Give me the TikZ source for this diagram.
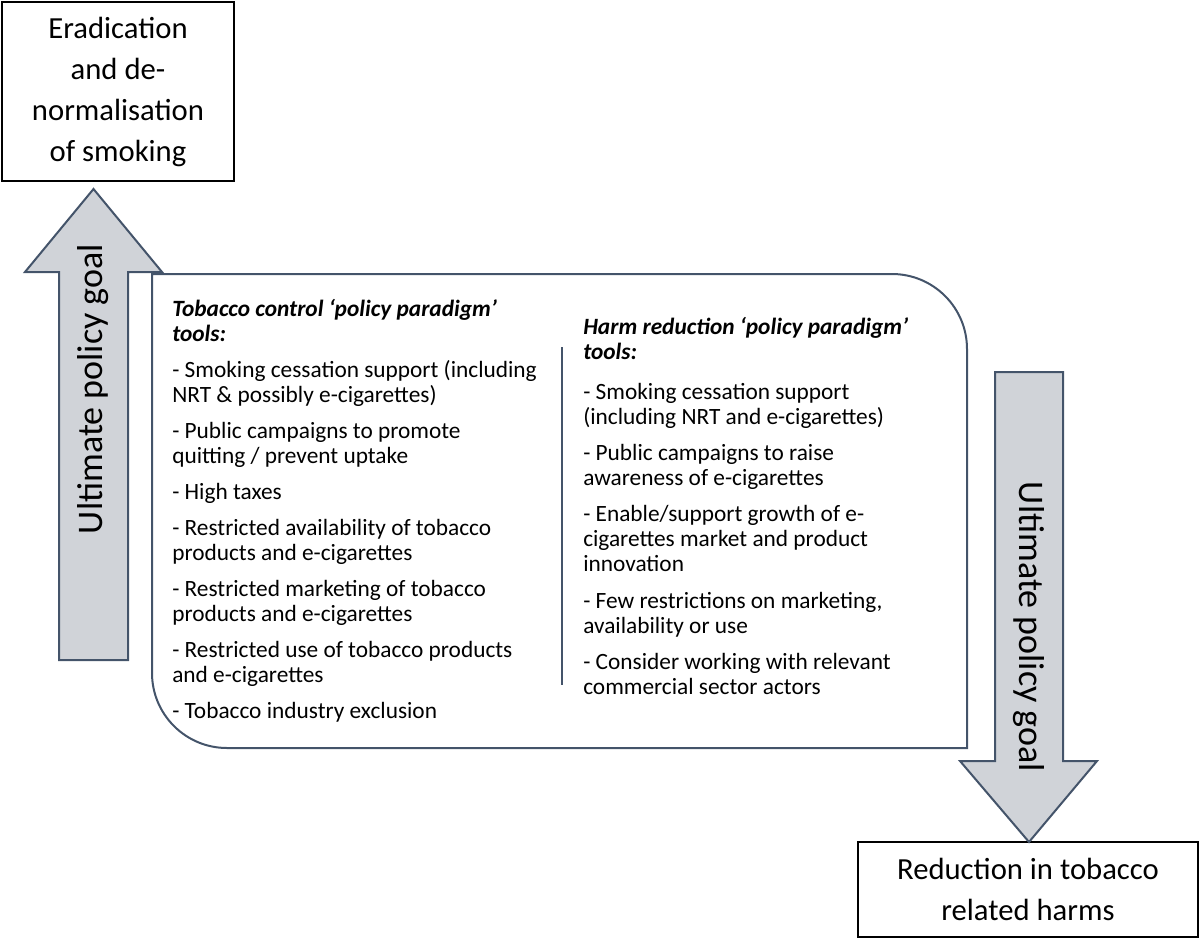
\documentclass[tikz,border=0pt]{standalone}
\usepackage{fontspec}
\setmainfont{Carlito}
\usepackage{tikz}
\usepackage{color}
\definecolor{slate}{RGB}{68,84,106}
\definecolor{arrowfill}{RGB}{208,211,216}
\newcommand{\toolhead}[1]{\textbf{\textit{#1}}}

\tikzset{
  goalbox/.style={draw=black, line width=1.5pt, align=center, inner sep=0pt,
    font=\fontsize{23}{30.75}\selectfont},
  goalarrow/.style={draw=slate, fill=arrowfill, line width=1.5pt, line join=miter},
  arrowtext/.style={inner sep=0pt, font=\fontsize{27}{32}\selectfont},
  tools/.style={align=left, anchor=north west, inner sep=0pt,
    font=\fontsize{17.5}{18.75}\selectfont},
}

\begin{document}
\begin{tikzpicture}[x=0.75pt,y=-0.75pt]
\useasboundingbox (0,0) rectangle (1200,939);
%% outcome boxes;
\node[goalbox, minimum width=174pt, minimum height=134.25pt] (erad) at (118,91.5)
  {Eradication\\and de-\\normalisation\\of smoking};
\node[goalbox, minimum width=255pt, minimum height=71.25pt] (harms) at (1028,889.5)
  {Reduction in tobacco\\related harms};
%% tools panel;
\draw[slate, line width=1.5pt] (152,274) -- (892,274)
  arc[start angle=-90, end angle=0, radius=75] -- (967,748) -- (227,748)
  arc[start angle=90, end angle=180, radius=75] -- cycle;
\draw[slate, line width=1.5pt] (562,347) -- (562,685);
%% goal arrows;
\draw[goalarrow] (59,660) -- (59,272) -- (25,272) -- (93.5,189) -- (162,272)
  -- (128,272) -- (128,660) -- cycle;
\draw[goalarrow] (995,372) -- (995,761) -- (960,761) -- (1029,842) -- (1097,761)
  -- (1063,761) -- (1063,372) -- cycle;
\node[arrowtext, rotate=90] (upgoal) at (93,389) {Ultimate policy goal};
\node[arrowtext, rotate=-90] (downgoal) at (1029,627) {Ultimate policy goal};
%% tobacco control;
\node[tools] (tc) at (172,299) {\toolhead{Tobacco control ‘policy paradigm’}\\
  \toolhead{tools:}\\[8.25pt]
  - Smoking cessation support (including\\
  NRT \& possibly e-cigarettes)\\[8.25pt]
  - Public campaigns to promote\\
  quitting / prevent uptake\\[8.25pt]
  - High taxes\\[8.25pt]
  - Restricted availability of tobacco\\
  products and e-cigarettes\\[8.25pt]
  - Restricted marketing of tobacco\\
  products and e-cigarettes\\[8.25pt]
  - Restricted use of tobacco products\\
  and e-cigarettes\\[8.25pt]
  - Tobacco industry exclusion};
%% harm reduction;
\node[tools] (hr) at (583,317) {\toolhead{Harm reduction ‘policy paradigm’}\\
  \toolhead{tools:}\\[11.25pt]
  - Smoking cessation support\\
  (including NRT and e-cigarettes)\\[8.25pt]
  - Public campaigns to raise\\
  awareness of e-cigarettes\\[8.5pt]
  - Enable/support growth of e-\\
  cigarettes market and product\\
  innovation\\[8.5pt]
  - Few restrictions on marketing,\\
  availability or use\\[8.25pt]
  - Consider working with relevant\\
  commercial sector actors};

\end{tikzpicture}
\end{document}
